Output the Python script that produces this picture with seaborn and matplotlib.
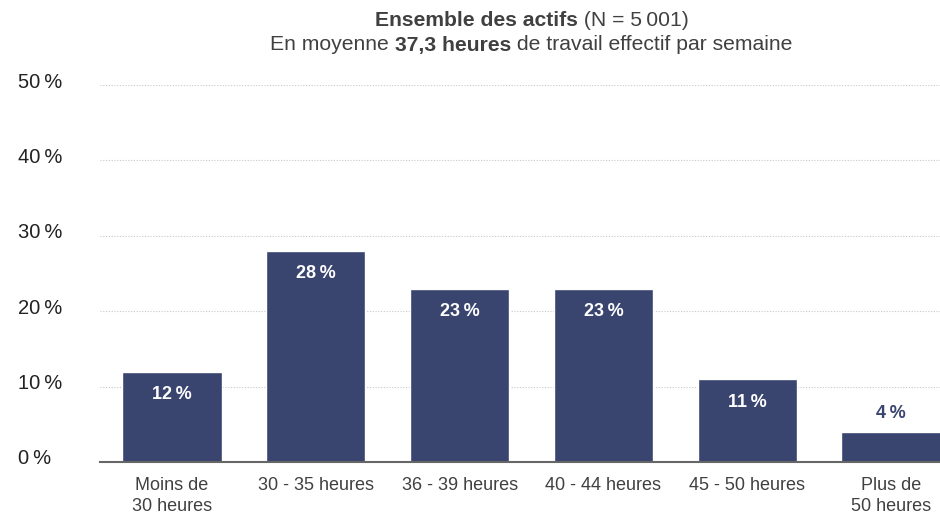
import pandas as pd
import matplotlib
matplotlib.use("Agg")
import matplotlib.pyplot as plt
import matplotlib.transforms as mtransforms
from matplotlib.offsetbox import TextArea, HPacker, AnchoredOffsetbox
import seaborn as sns

# données
categories = ["Moins de\n30 heures", "30 - 35 heures", "36 - 39 heures",
              "40 - 44 heures", "45 - 50 heures", "Plus de\n50 heures"]
valeurs = [12, 28, 23, 23, 11, 4]
yticks = [0, 10, 20, 30, 40, 50]

df = pd.DataFrame({"cat": categories, "val": valeurs})

sns.set_style("white")
plt.rcParams["font.family"] = ["Liberation Sans Narrow", "Liberation Sans", "DejaVu Sans"]

navy = "#39446f"
gris = "#404040"

fig = plt.figure(figsize=(9.4, 5.15), dpi=100)
ax = fig.add_axes([100 / 940, 53 / 515, 863 / 940, 377 / 515])

sns.barplot(data=df, x="cat", y="val", color=navy, width=0.69, saturation=1, ax=ax)

ax.set_ylim(0, 50)
ax.set_xlim(-0.5, len(categories) - 0.5)
ax.set_xlabel("")
ax.set_ylabel("")

# grille pointillée
for y in yticks[1:]:
    ax.axhline(y, color="#c8c8c8", lw=0.8, ls=(0, (1, 1.5)), zorder=0)

for s in ["top", "right", "left"]:
    ax.spines[s].set_visible(False)
ax.spines["bottom"].set_color("#666666")
ax.spines["bottom"].set_linewidth(1.5)

# axe y : étiquettes alignées à gauche
ax.set_yticks(yticks)
ax.set_yticklabels([f"{v}\u2009%" for v in yticks])
ax.tick_params(axis="y", length=0, pad=59, labelsize=14.5, labelcolor="#222222")
offset = mtransforms.ScaledTranslation(0, 5 / 100, fig.dpi_scale_trans)
for lab in ax.get_yticklabels():
    lab.set_horizontalalignment("left")
    lab.set_transform(lab.get_transform() + offset)

# axe x : graduations entre les catégories
ax.set_xticks(range(len(categories)))
ax.set_xticklabels(categories)
ax.tick_params(axis="x", which="major", length=0, pad=11, labelsize=13, labelcolor=gris)
ax.set_xticks([i - 0.5 for i in range(len(categories) + 1)], minor=True)
ax.tick_params(axis="x", which="minor", length=6, width=1, color="#666666", direction="out")
for lab in ax.get_xticklabels():
    lab.set_linespacing(1.25)

# étiquettes des valeurs
for i, v in enumerate(valeurs):
    if v >= 8:
        ax.annotate(f"{v}\u2009%", (i, v), xytext=(0, -23), textcoords="offset pixels",
                    ha="center", va="center", color="white", fontsize=13, fontweight="bold")
    else:
        ax.annotate(f"{v}\u2009%", (i, v), xytext=(0, 18), textcoords="offset pixels",
                    ha="center", va="center", color=navy, fontsize=13, fontweight="bold")


# titre en deux lignes avec parties en gras
def ligne(morceaux, y_px):
    boxes = [TextArea(t, textprops=dict(fontsize=15.2, color=gris, fontweight=w))
             for t, w in morceaux]
    pack = HPacker(children=boxes, pad=0, sep=0, align="baseline")
    xc = (100 + 863 / 2) / 940
    box = AnchoredOffsetbox(loc="center", child=pack, frameon=False, pad=0,
                            bbox_to_anchor=(xc, 1 - y_px / 515),
                            bbox_transform=fig.transFigure, borderpad=0)
    fig.add_artist(box)


ligne([("Ensemble des actifs", "bold"), (" (N = 5\u2009001)", "normal")], 20)
ligne([("En moyenne ", "normal"), ("37,3 heures", "bold"),
       (" de travail effectif par semaine", "normal")], 45)

fig.savefig("out.png", dpi=100)
